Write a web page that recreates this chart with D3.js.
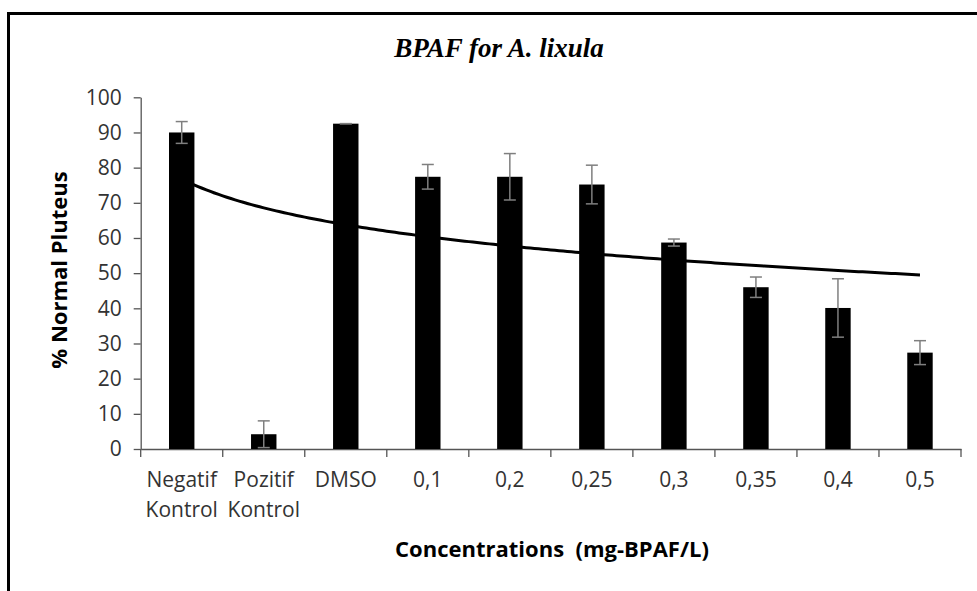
<!DOCTYPE html>
<html>
<head>
<meta charset="utf-8">
<script src="https://cdn.jsdelivr.net/npm/d3@7"></script>
<style>
  body { margin: 0; background: #fff; }
  svg { display: block; }
</style>
</head>
<body>
<div id="chart"></div>
<script>
// Data
const CATEGORIES = ["Negatif Kontrol", "Pozitif Kontrol", "DMSO", "0,1", "0,2", "0,25", "0,3", "0,35", "0,4", "0,5"];
const MEANS = [90, 4.2, 92.5, 77.4, 77.4, 75.2, 58.7, 46, 40.1, 27.4];
const ERRORS = [3.1, 3.8, 0, 3.5, 6.6, 5.5, 1, 2.9, 8.3, 3.4];
const Y_TICKS = [0, 10, 20, 30, 40, 50, 60, 70, 80, 90, 100];

// Constants for the frame
const FRAME_WIDTH = 977;
const FRAME_HEIGHT = 591;
const PLOT = {left: 140.7, right: 961, top: 97.3, bottom: 449};

const FRAME = d3.select("#chart")
                .append("svg")
                  .attr("width", FRAME_WIDTH)
                  .attr("height", FRAME_HEIGHT);

// outer border (runs off the right and bottom edges)
FRAME.append("rect")
       .attr("x", 8.5)
       .attr("y", 13.5)
       .attr("width", 1100)
       .attr("height", 700)
       .attr("fill", "none")
       .attr("stroke", "#000")
       .attr("stroke-width", 3);

// Scales
const X_SCALE = d3.scaleBand()
                  .domain(CATEGORIES)
                  .range([PLOT.left, PLOT.right])
                  .padding(0);

const Y_SCALE = d3.scaleLinear()
                  .domain([0, 100])
                  .range([PLOT.bottom, PLOT.top]);

const BAR_WIDTH = X_SCALE.bandwidth() * 0.31;
const center = (c) => X_SCALE(c) + X_SCALE.bandwidth() / 2;

// Title
FRAME.append("text")
       .attr("x", 499)
       .attr("y", 57)
       .attr("text-anchor", "middle")
       .attr("font-family", "'Liberation Serif', 'Times New Roman', serif")
       .attr("font-weight", "bold")
       .attr("font-style", "italic")
       .attr("font-size", "27px")
       .attr("fill", "#000")
       .text("BPAF for A. lixula");

// Y axis
const yAxis = FRAME.append("g")
       .attr("transform", "translate(" + PLOT.left + ",0)")
       .call(d3.axisLeft(Y_SCALE).tickValues(Y_TICKS).tickSize(7).tickPadding(12).tickSizeOuter(0));
yAxis.select(".domain").attr("stroke", "#555").attr("stroke-width", 1.3);
yAxis.selectAll(".tick line").attr("stroke", "#555").attr("stroke-width", 1.3);
yAxis.selectAll(".tick text")
       .attr("font-family", "'Open Sans', sans-serif")
       .attr("font-size", "21px")
       .attr("fill", "#333");

// X axis: labels under each category, ticks on the category boundaries
const xAxis = FRAME.append("g")
       .attr("transform", "translate(0," + PLOT.bottom + ")")
       .call(d3.axisBottom(X_SCALE).tickSize(0).tickSizeOuter(0));
xAxis.select(".domain").attr("stroke", "#555").attr("stroke-width", 1.3);
xAxis.selectAll(".tick text").each(function (d) {
  const t = d3.select(this);
  const words = d.split(" ");
  t.text(null)
   .attr("y", 0)
   .attr("dy", null)
   .attr("font-family", "'Open Sans', sans-serif")
   .attr("font-size", "21px")
   .attr("fill", "#333");
  words.forEach((w, i) => {
    t.append("tspan").attr("x", 0).attr("y", 38 + i * 29.5).text(w);
  });
});

const boundaries = CATEGORIES.map((c) => X_SCALE(c)).concat([PLOT.right]);
xAxis.selectAll(".boundary")
       .data(boundaries)
       .enter()
       .append("line")
         .attr("class", "boundary")
         .attr("x1", (d) => d)
         .attr("x2", (d) => d)
         .attr("y1", 0)
         .attr("y2", 8)
         .attr("stroke", "#555")
         .attr("stroke-width", 1.3);

// Bars
FRAME.selectAll(".bar")
       .data(CATEGORIES)
       .enter()
       .append("rect")
         .attr("class", "bar")
         .attr("x", (d) => center(d) - BAR_WIDTH / 2)
         .attr("width", BAR_WIDTH)
         .attr("y", (d, i) => Y_SCALE(MEANS[i]))
         .attr("height", (d, i) => PLOT.bottom - Y_SCALE(MEANS[i]))
         .attr("fill", "#000");

// Error bars
const errG = FRAME.append("g")
       .attr("stroke", "#7f7f7f")
       .attr("stroke-width", 1.5);
CATEGORIES.forEach((c, i) => {
  const cx = center(c);
  const top = Y_SCALE(MEANS[i] + ERRORS[i]);
  const bot = Y_SCALE(Math.max(0, MEANS[i] - ERRORS[i]));
  errG.append("line").attr("x1", cx).attr("x2", cx).attr("y1", top).attr("y2", bot);
  errG.append("line").attr("x1", cx - 6).attr("x2", cx + 6).attr("y1", top).attr("y2", top);
  errG.append("line").attr("x1", cx - 6).attr("x2", cx + 6).attr("y1", bot).attr("y2", bot);
});

// Logarithmic trend line, least squares fit of the means against ln(index)
const lx = MEANS.map((d, i) => Math.log(i + 1));
const mx = d3.mean(lx);
const my = d3.mean(MEANS);
const slope = d3.sum(lx, (v, i) => (v - mx) * (MEANS[i] - my)) / d3.sum(lx, (v) => (v - mx) * (v - mx));
const intercept = my - slope * mx;

const X_IDX = d3.scaleLinear()
                .domain([1, CATEGORIES.length])
                .range([center(CATEGORIES[0]), center(CATEGORIES[CATEGORIES.length - 1])]);

const trend = d3.range(1, CATEGORIES.length + 0.001, 0.05).map((t) => [t, slope * Math.log(t) + intercept]);

FRAME.append("path")
       .datum(trend)
       .attr("fill", "none")
       .attr("stroke", "#000")
       .attr("stroke-width", 3)
       .attr("d", d3.line().x((d) => X_IDX(d[0])).y((d) => Y_SCALE(d[1])));

// Axis titles
FRAME.append("text")
       .attr("transform", "translate(67,270) rotate(-90)")
       .attr("text-anchor", "middle")
       .attr("font-family", "'Open Sans', sans-serif")
       .attr("font-weight", "bold")
       .attr("font-size", "22px")
       .attr("fill", "#000")
       .text("% Normal Pluteus");

FRAME.append("text")
       .attr("x", 552)
       .attr("y", 557)
       .attr("text-anchor", "middle")
       .attr("font-family", "'Open Sans', sans-serif")
       .attr("font-weight", "bold")
       .attr("font-size", "22px")
       .attr("fill", "#000")
       .attr("xml:space", "preserve")
       .style("white-space", "pre")
       .text("Concentrations  (mg-BPAF/L)");
</script>
</body>
</html>
